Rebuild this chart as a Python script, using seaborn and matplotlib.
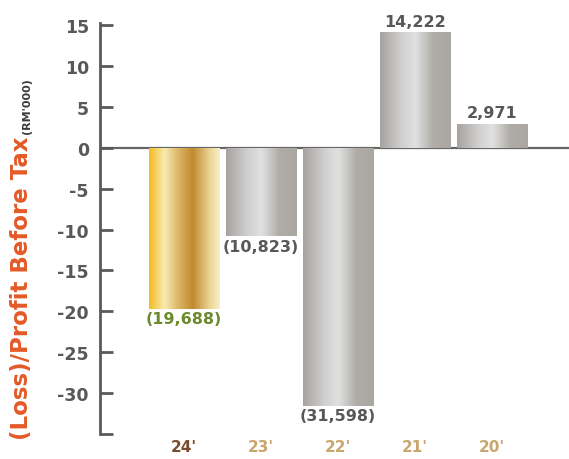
import numpy as np
import pandas as pd
import matplotlib
matplotlib.use("Agg")
import matplotlib.pyplot as plt
from matplotlib.colors import LinearSegmentedColormap
import seaborn as sns

# ---- data ----
years = ["24'", "23'", "22'", "21'", "20'"]
values = [-19.688, -10.823, -31.598, 14.222, 2.971]
value_labels = ["(19,688)", "(10,823)", "(31,598)", "14,222", "2,971"]
yticks = [15, 10, 5, 0, -5, -10, -15, -20, -25, -30]

sns.set_theme(style="white")
FONT = ["Liberation Sans Narrow", "DejaVu Sans"]
plt.rcParams["font.family"] = FONT

fig = plt.figure(figsize=(5.69, 4.6), dpi=100)
ax = fig.add_axes([100/569, 1-434.6/460, 1-100/569, (434.6-24)/460])

df = pd.DataFrame({"year": years, "value": values})
sns.barplot(data=df, x="year", y="value", ax=ax, color="#bbbbbb",
            width=0.92, saturation=1, errorbar=None)

gold = LinearSegmentedColormap.from_list("gold", [
    (0.0, "#f3bd1e"), (0.22, "#f8eab2"), (0.42, "#dcb464"),
    (0.62, "#c08a30"), (0.85, "#ead292"), (1.0, "#f8f0c4")])
silver = LinearSegmentedColormap.from_list("silver", [
    (0.0, "#a6a29f"), (0.3, "#cfcfcf"), (0.5, "#e0e1e1"),
    (0.75, "#b0aca8"), (1.0, "#aaa6a2")])

grad = np.linspace(0, 1, 256).reshape(1, -1)
for i, p in enumerate(ax.patches):
    x0, w = p.get_x(), p.get_width()
    y0, h = p.get_y(), p.get_height()
    ylo, yhi = min(y0, y0 + h), max(y0, y0 + h)
    im = ax.imshow(grad, cmap=gold if i == 0 else silver, aspect="auto",
                   extent=(x0, x0 + w, ylo, yhi), zorder=p.get_zorder() + 0.1,
                   interpolation="bicubic")
    im.set_clip_path(p)
    p.set_edgecolor("none")

ax.set_xlim(-1.09, 5.0)
ax.set_ylim(-35, 15.3)

# zero line
ax.axhline(0, color="#666666", lw=1.6, zorder=0.5)

# value labels
for i, (v, lab) in enumerate(zip(values, value_labels)):
    col = "#6e8a2e" if i == 0 else "#58585a"
    if v < 0:
        ax.text(i, v - 0.3, lab, ha="center", va="top", fontsize=11.5,
                fontweight="bold", color=col, family=FONT, zorder=5)
    else:
        ax.text(i, v + 0.4, lab, ha="center", va="bottom", fontsize=11.5,
                fontweight="bold", color=col, family=FONT, zorder=5)

# spines and ticks
for s in ["top", "right", "bottom"]:
    ax.spines[s].set_visible(False)
ax.spines["left"].set_color("#5a5a5c")
ax.spines["left"].set_linewidth(2)
ax.set_yticks(yticks + [-35])
ax.set_yticklabels([str(t) for t in yticks] + [""])
ax.tick_params(axis="y", direction="in", length=9, width=2, color="#5a5a5c",
               labelsize=12.5, labelcolor="#58585a", pad=8, left=True)
for t in ax.get_yticklabels():
    t.set_fontweight("bold")

ax.set_xlabel("")
ax.set_ylabel("")
ax.tick_params(axis="x", length=0, pad=4, labelsize=11)
xcols = ["#7a4a2c", "#c9a66c", "#c9a66c", "#c9a66c", "#c9a66c"]
for t, c in zip(ax.get_xticklabels(), xcols):
    t.set_color(c)
    t.set_fontweight("bold")

# y label
main = fig.text(22/569, 20/460, "(Loss)/Profit Before Tax", rotation=90,
                ha="center", va="bottom", fontsize=16.5, fontweight="bold",
                color="#e45a28", family=FONT)
fig.canvas.draw()
bb = main.get_window_extent(fig.canvas.get_renderer())
fig.text(bb.x1 / 569 - 0.002, (bb.y1 + 3) / 460, "(RM'000)", rotation=90,
         ha="right", va="bottom", fontsize=8, fontweight="bold",
         color="#3c3c3e", family=FONT)

fig.savefig("out.png", dpi=100)
